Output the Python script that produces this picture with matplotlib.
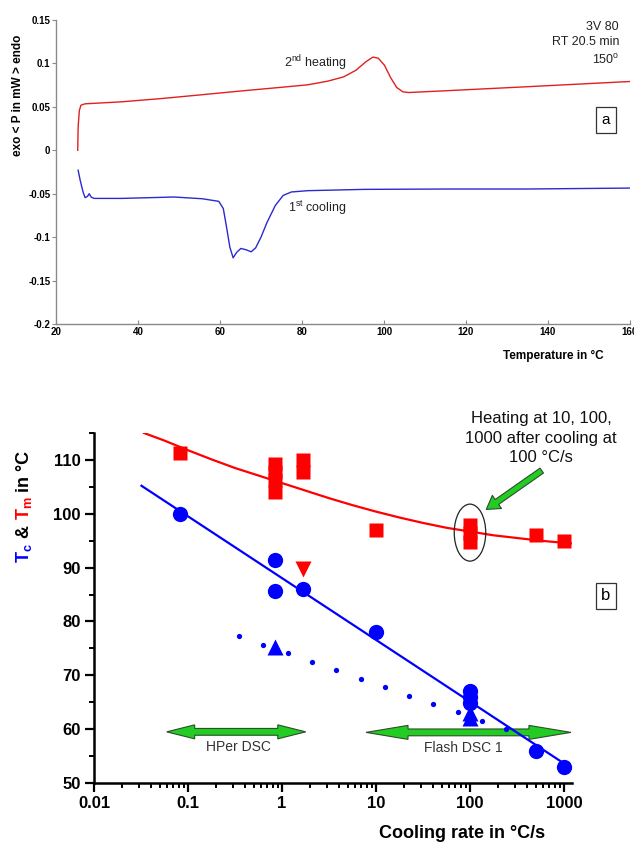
import matplotlib
matplotlib.use("Agg")
import matplotlib.pyplot as plt
from matplotlib.patches import Ellipse, Polygon, FancyArrowPatch
from matplotlib.transforms import ScaledTranslation, IdentityTransform
from matplotlib.ticker import LogLocator, MultipleLocator, NullFormatter

plt.rcParams['font.family'] = ['Liberation Sans', 'DejaVu Sans']
plt.rcParams['mathtext.fontset'] = 'custom'
plt.rcParams['mathtext.rm'] = 'Liberation Sans'
plt.rcParams['mathtext.it'] = 'Liberation Sans:italic'
plt.rcParams['mathtext.bf'] = 'Liberation Sans:bold'

W, H = 634, 844

# ---- panel a: DSC curves ----
heat_T = [25.3, 25.4, 25.7, 26.1, 27.1, 36.0, 45.8, 55.7, 65.6, 75.4, 81.4, 86.3, 90.2,
          93.2, 95.6, 97.3, 98.6, 100.1, 101.6, 103.1, 104.6, 106.0, 114.9, 134.6, 160.0]
heat_P = [0.0, 0.027, 0.046, 0.052, 0.0535, 0.0558, 0.0596, 0.064, 0.0685, 0.0727, 0.0754,
          0.0796, 0.0846, 0.0923, 0.102, 0.1073, 0.106, 0.098, 0.0838, 0.0723, 0.0673,
          0.0665, 0.0685, 0.0731, 0.0792]
cool_T = [25.4, 25.9, 26.6, 27.1, 27.7, 28.1, 28.6, 29.3, 36.0, 48.8, 55.7, 59.7, 60.8,
          61.6, 62.4, 63.2, 64.1, 65.1, 66.4, 67.6, 68.7, 70.0, 71.5, 73.5, 75.4, 77.4,
          81.4, 95.2, 114.9, 134.6, 160.0]
cool_P = [-0.023, -0.0346, -0.048, -0.0546, -0.053, -0.050, -0.054, -0.0554, -0.0554,
          -0.0538, -0.0558, -0.0588, -0.067, -0.0885, -0.1115, -0.1238, -0.1173, -0.113,
          -0.1146, -0.1169, -0.1123, -0.100, -0.0827, -0.0635, -0.052, -0.048, -0.0465,
          -0.045, -0.0446, -0.0446, -0.0435]
a_xticks = [20, 40, 60, 80, 100, 120, 140, 160]
a_yticks = [-0.2, -0.15, -0.1, -0.05, 0, 0.05, 0.1, 0.15]
a_ylabels = ['-0.2', '-0.15', '-0.1', '-0.05', '0', '0.05', '0.1', '0.15']

# ---- panel b: Tc / Tm vs cooling rate ----
tm_rate = [0.083, 0.85, 0.85, 0.85, 0.85, 1.67, 1.67, 10, 100, 100, 100, 505, 1000]
tm_temp = [111.2, 109.3, 107.8, 106.3, 104.0, 109.9, 107.8, 97.0, 98.0, 96.5, 94.8, 96.0, 94.9]
tm_down_rate = [1.67]
tm_down_temp = [89.7]
tc_rate = [0.083, 0.85, 0.85, 1.67, 10, 100, 100, 100, 505, 1000]
tc_temp = [100.0, 91.5, 85.7, 86.1, 78.0, 67.0, 66.0, 64.8, 56.0, 53.0]
tc_up_rate = [0.85, 100, 100]
tc_up_temp = [75.3, 63.0, 62.0]
dot_rate = [0.35, 0.63, 1.16, 2.08, 3.78, 6.87, 12.4, 22.6, 40.9, 74.2, 134, 244]
dot_temp = [77.3, 75.7, 74.1, 72.5, 71.0, 69.4, 67.8, 66.2, 64.7, 63.1, 61.5, 60.0]
tc_fit_rate = [0.032, 1230]
tc_fit_temp = [105.2, 52.6]
tm_fit_rate = [0.034, 0.056, 0.1, 0.178, 0.316, 0.562, 1, 1.78, 3.16, 5.62, 10, 17.8,
               31.6, 56.2, 100, 178, 316, 562, 1000, 1200]
tm_fit_temp = [115.0, 113.6, 111.8, 110.1, 108.5, 107.1, 105.7, 104.3, 102.9, 101.6,
               100.4, 99.3, 98.3, 97.4, 96.7, 96.0, 95.5, 95.0, 94.6, 94.5]
b_xticks = [0.01, 0.1, 1, 10, 100, 1000]
b_xlabels = ['0.01', '0.1', '1', '10', '100', '1000']


def fig_frac(x, y):
    return x / W, 1 - y / H


fig = plt.figure(figsize=(W / 100, H / 100), dpi=100)

# ================= panel a =================
axa = fig.add_axes([56 / W, 1 - 324 / H, 574 / W, 304 / H])
axa.plot(heat_T, heat_P, color='#e02020', lw=1.0)
axa.plot(cool_T, cool_P, color='#2a2ad0', lw=1.0)
axa.set_xlim(20, 160)
axa.set_ylim(-0.2, 0.15)
axa.set_xticks(a_xticks)
axa.set_xticklabels([str(v) for v in a_xticks])
axa.set_yticks(a_yticks)
axa.set_yticklabels(a_ylabels)
for s in ['top', 'right']:
    axa.spines[s].set_visible(False)
for s in ['left', 'bottom']:
    axa.spines[s].set_color('#8a8a8a')
    axa.spines[s].set_linewidth(1.0)
axa.tick_params(axis='y', direction='out', length=3, width=0.8, color='#8a8a8a',
                labelsize=7, pad=1)
axa.tick_params(axis='x', direction='in', length=3, width=0.8, color='#8a8a8a',
                labelsize=7, pad=2)
for lab in axa.get_xticklabels() + axa.get_yticklabels():
    lab.set_fontweight('bold')

fig.text(*fig_frac(18, 95), 'exo < P in mW > endo', rotation=90, ha='center', va='center',
         fontsize=8.5, fontweight='bold')
fig.text(*fig_frac(503, 356), 'Temperature in °C', ha='left', va='center',
         fontsize=8.5, fontweight='bold')

fig.text(*fig_frac(619, 27), '3V 80', ha='right', va='center', fontsize=9, color='#222222')
fig.text(*fig_frac(619, 42), 'RT 20.5 min', ha='right', va='center', fontsize=9, color='#222222')
fig.text(*fig_frac(619, 60), r'150$^{\mathrm{o}}$', ha='right', va='center', fontsize=9,
         color='#222222')
fig.text(*fig_frac(284, 63), r'2$^{\mathrm{nd}}$ heating', ha='left', va='center',
         fontsize=9, color='#222222')
fig.text(*fig_frac(288, 208), r'1$^{\mathrm{st}}$ cooling', ha='left', va='center',
         fontsize=9, color='#222222')
fig.text(*fig_frac(606, 120), 'a', ha='center', va='center', fontsize=11,
         bbox=dict(boxstyle='square,pad=0.4', fc='white', ec='#333333', lw=0.9))

# ================= panel b =================
axb = fig.add_axes([94 / W, 1 - 783 / H, 478 / W, 350 / H])
axb.set_xscale('log')
axb.set_xlim(0.01, 1217)
axb.set_ylim(50, 115)

axb.plot(tm_fit_rate, tm_fit_temp, color='#ff0000', lw=1.6, zorder=2)
axb.plot(tc_fit_rate, tc_fit_temp, color='#0000ff', lw=1.6, zorder=2)
axb.plot(tm_rate, tm_temp, 's', color='#ff0000', ms=9.5, mec='none', zorder=3)
axb.plot(tm_down_rate, tm_down_temp, 'v', color='#ff0000', ms=12, mec='none', zorder=3)
axb.plot(tc_rate, tc_temp, 'o', color='#0000ff', ms=11, mec='none', zorder=3)
axb.plot(tc_up_rate, tc_up_temp, '^', color='#0000ff', ms=12, mec='none', zorder=3)
axb.plot(dot_rate, dot_temp, 'o', color='#0000ff', ms=3.8, mec='none', zorder=3)

axb.set_xticks(b_xticks)
axb.set_xticklabels(b_xlabels)
axb.xaxis.set_minor_locator(LogLocator(base=10, subs=range(2, 10), numticks=20))
axb.xaxis.set_minor_formatter(NullFormatter())
axb.yaxis.set_major_locator(MultipleLocator(10))
axb.yaxis.set_minor_locator(MultipleLocator(5))
for s in ['top', 'right']:
    axb.spines[s].set_visible(False)
for s in ['left', 'bottom']:
    axb.spines[s].set_linewidth(1.8)
axb.tick_params(which='major', direction='out', length=6.5, width=1.6, labelsize=12, pad=3)
axb.tick_params(which='minor', direction='out', length=3.8, width=1.4)
for lab in axb.get_xticklabels() + axb.get_yticklabels():
    lab.set_fontweight('bold')

fig.text(*fig_frac(462, 833), 'Cooling rate in °C/s', ha='center', va='center',
         fontsize=13, fontweight='bold')


def double_arrow(ax, x0, x1, y, head):
    (a, yc), (b, _) = ax.transData.transform([(x0, y), (x1, y)])
    hw, bw = 7, 3.4
    pts = [(a, yc), (a + head, yc + hw), (a + head, yc + bw), (b - head, yc + bw),
           (b - head, yc + hw), (b, yc), (b - head, yc - hw), (b - head, yc - bw),
           (a + head, yc - bw), (a + head, yc - hw)]
    ax.add_patch(Polygon(pts, closed=True, transform=IdentityTransform(), fc='#22cc22',
                         ec='#2d4d2d', lw=0.8, clip_on=False, zorder=1))


double_arrow(axb, 0.0593, 1.79, 59.5, 28)
double_arrow(axb, 7.83, 1186, 59.4, 42)
axb.text(0.34, 56.7, 'HPer DSC', ha='center', va='center', fontsize=10, color='#333333')
axb.text(84, 56.5, 'Flash DSC 1', ha='center', va='center', fontsize=10, color='#333333')

# ellipse around the heating points at 100 K/s
axb.add_patch(Ellipse((0, 0), width=0.315, height=0.57, fill=False, ec='#222222', lw=0.9,
                      transform=fig.dpi_scale_trans + ScaledTranslation(100, 96.5, axb.transData),
                      clip_on=False, zorder=4))

ax0, ay0 = 544, H - 469
ax1, ay1 = 484, H - 511
fig.patches.append(FancyArrowPatch((ax0, ay0), (ax1, ay1), transform=IdentityTransform(),
                                   arrowstyle='simple,head_length=1.3,head_width=1.6,tail_width=0.6',
                                   mutation_scale=7.2, fc='#22cc22', ec='#2d4d2d', lw=0.8))
fig.text(*fig_frac(541, 438), 'Heating at 10, 100,\n1000 after cooling at\n100 °C/s',
         ha='center', va='center', fontsize=12, linespacing=1.4, color='#111111')

fig.text(*fig_frac(606, 596), 'b', ha='center', va='center', fontsize=12,
         bbox=dict(boxstyle='square,pad=0.35', fc='white', ec='#333333', lw=0.9))

# y label with coloured parts, built piece by piece along the rotated baseline
renderer = fig.canvas.get_renderer()
pieces = [(r'$\mathbf{T_c}$', '#0000ff'), (' & ', 'black'), (r'$\mathbf{T_m}$', '#ff0000'),
          (' in °C', 'black')]
ypos = 563
for txt, col in pieces:
    t = fig.text(*fig_frac(29, ypos), txt, rotation=90, rotation_mode='anchor', ha='left',
                 va='baseline', fontsize=13, fontweight='bold', color=col)
    ypos -= t.get_window_extent(renderer).height

fig.savefig('out.png', dpi=100)
